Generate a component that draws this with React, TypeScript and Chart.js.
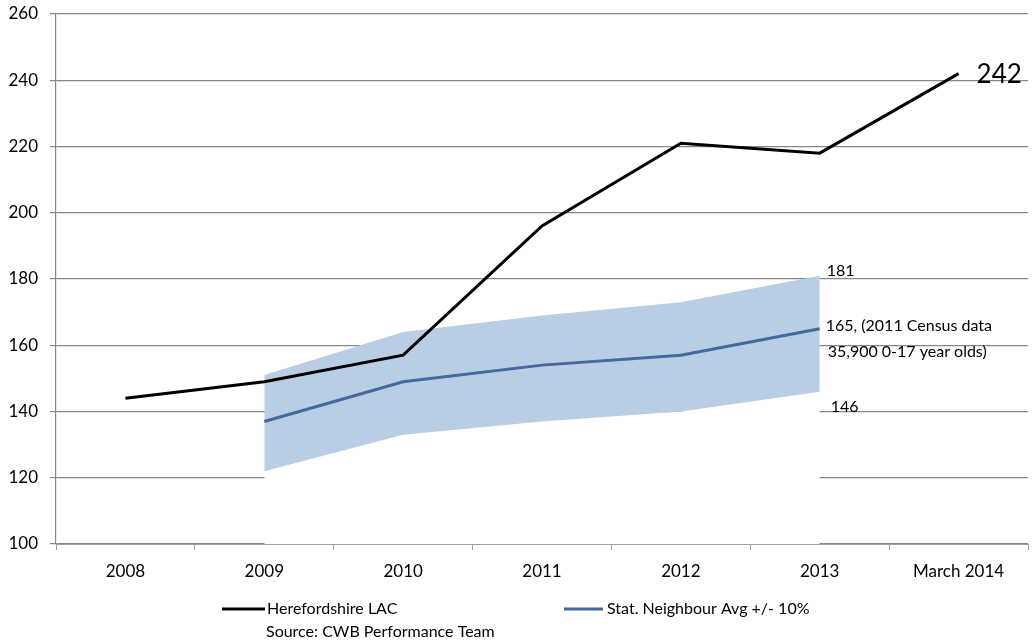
import React, { useEffect, useRef } from "react";
import { Chart, registerables } from "chart.js";

Chart.register(...registerables);

const categories = ["2008", "2009", "2010", "2011", "2012", "2013", "March 2014"];
const herefordshireLAC = [144, 149, 157, 196, 221, 218, 242];
const statNeighbourAvg = [null, 137, 149, 154, 157, 165, null];
const bandUpper = [null, 151, 164, 169, 173, 181, null];
const bandLower = [null, 122, 133, 137, 140, 146, null];
const legendLabels = ["Herefordshire LAC", "Stat. Neighbour Avg +/- 10%"];
const sourceText = "Source: CWB Performance Team";
const censusNote = ["165, (2011 Census data", "35,900 0-17 year olds)"];

const FONT = "Lato, 'Open Sans', sans-serif";
const BLUE = "#44699d";
const BAND = "#b9cde5";
const GRID = "#878787";

const labelsPlugin = {
  id: "customLabels",
  afterDatasetsDraw(chart: any) {
    const ctx = chart.ctx;
    const black = chart.getDatasetMeta(0).data;
    const blue = chart.getDatasetMeta(1).data;
    const up = chart.getDatasetMeta(2).data;
    const lo = chart.getDatasetMeta(3).data;
    ctx.save();
    ctx.fillStyle = "#000";
    ctx.textAlign = "left";
    ctx.textBaseline = "middle";
    const last = black[black.length - 1];
    ctx.font = `26px ${FONT}`;
    ctx.fillText(String(herefordshireLAC[herefordshireLAC.length - 1]), last.x + 18, last.y + 1);
    const i = 5;
    ctx.font = `16px ${FONT}`;
    ctx.fillText(String(bandUpper[i]), up[i].x + 7, up[i].y - 5);
    ctx.fillText(censusNote[0], blue[i].x + 6, blue[i].y - 3);
    ctx.fillText(censusNote[1], blue[i].x + 8, blue[i].y + 23);
    ctx.fillText(String(bandLower[i]), lo[i].x + 11, lo[i].y + 15);
    ctx.restore();
  },
  afterDraw(chart: any) {
    const ctx = chart.ctx;
    ctx.save();
    ctx.lineCap = "butt";
    ctx.lineWidth = 3;
    ctx.strokeStyle = "#000";
    ctx.beginPath();
    ctx.moveTo(222, 609);
    ctx.lineTo(265, 609);
    ctx.stroke();
    ctx.strokeStyle = BLUE;
    ctx.beginPath();
    ctx.moveTo(564, 609);
    ctx.lineTo(603, 609);
    ctx.stroke();
    ctx.fillStyle = "#000";
    ctx.font = `16px ${FONT}`;
    ctx.textAlign = "left";
    ctx.textBaseline = "middle";
    ctx.fillText(legendLabels[0], 267, 609);
    ctx.fillText(legendLabels[1], 607, 609);
    ctx.fillText(sourceText, 266, 632);
    ctx.restore();
  },
};

export default function App() {
  const ref = useRef<HTMLCanvasElement | null>(null);
  useEffect(() => {
    document.body.style.margin = "0";
    const canvas = ref.current;
    if (!canvas) return;
    const chart = new Chart(canvas, {
      type: "line",
      data: {
        labels: categories,
        datasets: [
          {
            label: legendLabels[0],
            data: herefordshireLAC,
            borderColor: "#000",
            borderWidth: 3,
            pointRadius: 0,
            tension: 0,
            fill: false,
            order: 0,
          },
          {
            label: legendLabels[1],
            data: statNeighbourAvg as any,
            borderColor: BLUE,
            borderWidth: 3,
            pointRadius: 0,
            tension: 0,
            fill: false,
            order: 1,
          },
          {
            label: "upper",
            data: bandUpper as any,
            borderWidth: 0,
            borderColor: "rgba(0,0,0,0)",
            backgroundColor: BAND,
            pointRadius: 0,
            tension: 0,
            fill: 3,
            order: 2,
          },
          {
            label: "lower",
            data: bandLower as any,
            borderWidth: 0,
            borderColor: "rgba(0,0,0,0)",
            backgroundColor: "#ffffff",
            pointRadius: 0,
            tension: 0,
            fill: "start",
            order: 3,
          },
        ],
      },
      options: {
        animation: false,
        responsive: false,
        events: [],
        layout: { padding: { top: 14, right: 4, left: 0, bottom: 0 } },
        plugins: {
          legend: { display: false },
          tooltip: { enabled: false },
          title: { display: false },
        },
        scales: {
          x: {
            type: "category",
            offset: true,
            z: 1,
            afterFit: (s: any) => {
              s.height = 100;
              s.paddingLeft = 0;
              s.paddingRight = 0;
            },
            grid: {
              offset: true,
              drawOnChartArea: false,
              drawTicks: true,
              tickLength: 6,
              color: "#a0a0a0",
            },
            border: { color: "#a0a0a0", width: 1 },
            ticks: {
              color: "#000",
              font: { family: FONT, size: 17 },
              padding: 11,
              maxRotation: 0,
              autoSkip: false,
            },
          },
          y: {
            min: 100,
            max: 260,
            afterFit: (s: any) => {
              s.width = 56;
              s.paddingTop = 0;
              s.paddingBottom = 0;
            },
            grid: {
              color: GRID,
              lineWidth: 1.2,
              tickLength: 6,
              drawTicks: true,
            },
            border: { color: GRID, width: 1.2 },
            ticks: {
              stepSize: 20,
              color: "#000",
              font: { family: FONT, size: 17 },
              padding: 12,
            },
          },
        },
      },
      plugins: [labelsPlugin],
    });
    return () => chart.destroy();
  }, []);
  return (
    <div style={{ width: 1032, height: 644, background: "#fff" }}>
      <canvas ref={ref} width={1032} height={644} style={{ display: "block" }} />
    </div>
  );
}
